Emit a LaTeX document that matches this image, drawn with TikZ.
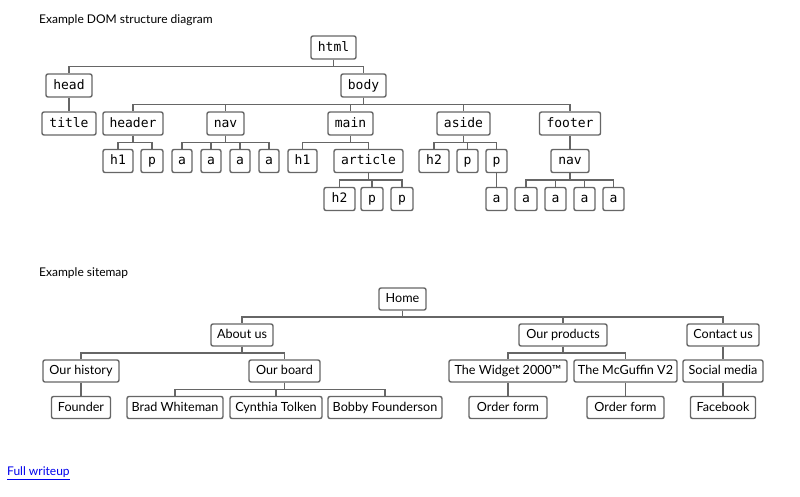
\documentclass[tikz,border=0pt]{standalone}
\usepackage{fontspec}
\setmainfont{Lato}
\newfontfamily\domfont{DejaVu Sans Mono}
\usetikzlibrary{calc}
\definecolor{boxgray}{HTML}{666666}
\definecolor{linkblue}{HTML}{0000EE}
\newcommand\tconn[2]{\draw[conn] (#1.south) |- ($(#1.south)!0.5!(#2.north)$) -| (#2.north);}
\begin{document}
\begin{tikzpicture}[x=1pt,y=-1pt,
  box/.style={draw=boxgray, line width=1.4pt, rounded corners=2pt, fill=white, inner sep=0pt, text=black},
  dom/.style={box, font=\domfont\fontsize{13}{15}\selectfont, minimum height=23pt, text height=9.5pt, text depth=2.5pt},
  site/.style={box, font=\fontsize{12.6}{15}\selectfont, minimum height=22pt, text height=9.5pt, text depth=2.5pt},
  conn/.style={draw=boxgray, line width=1.4pt},
  heading/.style={anchor=west, inner sep=0pt, font=\fontsize{12}{14}\selectfont, text=black}]
\useasboundingbox (0,0) rectangle (800,496);
\fill[white] (0,0) rectangle (800,496);

\node[heading] (t1) at (39,20) {Example DOM structure diagram};
\node[heading] (t2) at (39,273) {Example sitemap};
\node[anchor=west, inner sep=0pt, font=\fontsize{12}{14}\selectfont, text=linkblue] (lnk) at (7,473) {\underline{Full writeup}};

% DOM tree
\node[dom, minimum width=45pt] (html) at (333.5,47.5) {html};
\node[dom, minimum width=46pt] (head) at (69,85.5) {head};
\node[dom, minimum width=45pt] (body) at (363.5,85.5) {body};
\node[dom, minimum width=54pt] (title) at (69,123.5) {title};
\node[dom, minimum width=60pt] (header) at (133,123.5) {header};
\node[dom, minimum width=37pt] (nava) at (225.5,123.5) {nav};
\node[dom, minimum width=45pt] (main) at (350.5,123.5) {main};
\node[dom, minimum width=53pt] (aside) at (463.5,123.5) {aside};
\node[dom, minimum width=61pt] (footer) at (570,123.5) {footer};

\node[dom, minimum width=30pt] (h1a) at (118,161) {h1};
\node[dom, minimum width=22pt] (pa) at (152,161) {p};
\node[dom, minimum width=20pt] (a1) at (182,161) {a};
\node[dom, minimum width=20pt] (a2) at (211,161) {a};
\node[dom, minimum width=20pt] (a3) at (240,161) {a};
\node[dom, minimum width=20pt] (a4) at (269,161) {a};
\node[dom, minimum width=29pt] (h1b) at (302.5,161) {h1};
\node[dom, minimum width=69pt] (article) at (368.5,161) {article};
\node[dom, minimum width=30pt] (h2a) at (434,161) {h2};
\node[dom, minimum width=21pt] (pb) at (467.5,161) {p};
\node[dom, minimum width=21pt] (pc) at (496.5,161) {p};
\node[dom, minimum width=38pt] (navb) at (570,161) {nav};

\node[dom, minimum width=31pt] (h2b) at (339.5,199) {h2};
\node[dom, minimum width=22pt] (pd) at (372,199) {p};
\node[dom, minimum width=22pt] (pe) at (402,199) {p};
\node[dom, minimum width=21pt] (a5) at (496.5,199) {a};
\node[dom, minimum width=22pt] (a6) at (526,199) {a};
\node[dom, minimum width=21pt] (a7) at (555.5,199) {a};
\node[dom, minimum width=21pt] (a8) at (584.5,199) {a};
\node[dom, minimum width=21pt] (a9) at (613.5,199) {a};

\tconn{html}{head}
\tconn{html}{body}
\tconn{head}{title}
\tconn{body}{header}
\tconn{body}{nava}
\tconn{body}{main}
\tconn{body}{aside}
\tconn{body}{footer}
\tconn{header}{h1a}
\tconn{header}{pa}
\tconn{nava}{a1}
\tconn{nava}{a2}
\tconn{nava}{a3}
\tconn{nava}{a4}
\tconn{main}{h1b}
\tconn{main}{article}
\tconn{aside}{h2a}
\tconn{aside}{pb}
\tconn{aside}{pc}
\tconn{footer}{navb}
\tconn{article}{h2b}
\tconn{article}{pd}
\tconn{article}{pe}
\tconn{pc}{a5}
\tconn{navb}{a6}
\tconn{navb}{a7}
\tconn{navb}{a8}
\tconn{navb}{a9}

% Sitemap
\node[site, minimum width=47pt] (home) at (402.5,299) {Home};
\node[site, minimum width=62pt] (about) at (242,335) {About us};
\node[site, minimum width=88pt] (products) at (563,335) {Our products};
\node[site, minimum width=72pt] (contact) at (723,335) {Contact us};
\node[site, minimum width=76pt] (history) at (81,371) {Our history};
\node[site, minimum width=71pt] (board) at (284.5,371) {Our board};
\node[site, minimum width=118pt] (widget) at (508,371) {The Widget 2000™};
\node[site, minimum width=103pt] (mcguffin) at (625.5,371) {The McGuffin V2};
\node[site, minimum width=80pt] (social) at (723,371) {Social media};
\node[site, minimum width=59pt] (founder) at (81,407.5) {Founder};
\node[site, minimum width=96pt] (brad) at (175,407.5) {Brad Whiteman};
\node[site, minimum width=92pt] (cynthia) at (276,407.5) {Cynthia Tolken};
\node[site, minimum width=114pt] (bobby) at (385,407.5) {Bobby Founderson};
\node[site, minimum width=78pt] (order1) at (508,407.5) {Order form};
\node[site, minimum width=77pt] (order2) at (625.5,407.5) {Order form};
\node[site, minimum width=65pt] (facebook) at (723,407.5) {Facebook};

\tconn{home}{about}
\tconn{home}{products}
\tconn{home}{contact}
\tconn{about}{history}
\tconn{about}{board}
\tconn{products}{widget}
\tconn{products}{mcguffin}
\tconn{contact}{social}
\tconn{history}{founder}
\tconn{board}{brad}
\tconn{board}{cynthia}
\tconn{board}{bobby}
\tconn{widget}{order1}
\tconn{mcguffin}{order2}
\tconn{social}{facebook}
\end{tikzpicture}
\end{document}
